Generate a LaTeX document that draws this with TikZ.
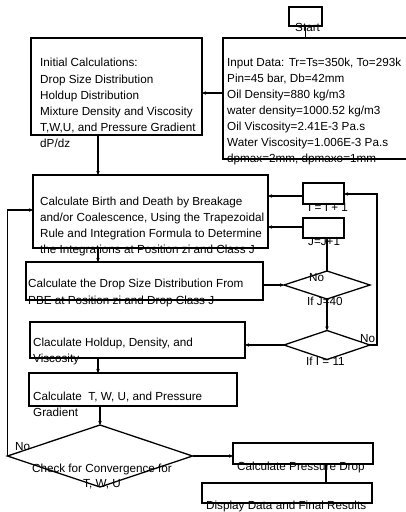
\documentclass[tikz,border=0pt]{standalone}
\usepackage{fontspec}
\setmainfont{Liberation Sans}
\usetikzlibrary{shapes.geometric,arrows.meta}
\begin{document}
\begin{tikzpicture}[x=1pt,y=-1pt,
 box/.style={draw, line width=1.3pt, inner sep=0pt, outer sep=0pt, anchor=north west},
 dia/.style={draw, diamond, line width=1.3pt, inner sep=0pt, outer sep=0pt},
 txt/.style={inner sep=0pt, anchor=base west, align=left, font=\fontsize{11.7}{16.2}\selectfont},
 ln/.style={line width=1.3pt},
 arr/.style={line width=1.3pt, -{Stealth[length=4pt,width=3.5pt]}},
]
\useasboundingbox (0,0) rectangle (406,512);
% boxes
\node[box, minimum width=33, minimum height=19] (start) at (289,7) {};
\node[box, minimum width=190, minimum height=121] (input) at (223,38) {};
\node[box, minimum width=171, minimum height=97] (init) at (31,38) {};
\node[box, minimum width=235, minimum height=73] (birth) at (33,175) {};
\node[box, minimum width=41, minimum height=21] (ibox) at (303,183) {};
\node[box, minimum width=41, minimum height=20] (jbox) at (303,218) {};
\node[box, minimum width=237, minimum height=38] (drop) at (26,262) {};
\node[box, minimum width=215, minimum height=36] (hold) at (30,322) {};
\node[box, minimum width=208, minimum height=33] (calct) at (29,373) {};
\node[box, minimum width=140, minimum height=21] (press) at (233,443) {};
\node[box, minimum width=170, minimum height=20] (disp) at (202,483) {};
% diamonds
\node[dia, minimum width=86, minimum height=28, aspect=3.07] (dj) at (327,285) {};
\node[dia, minimum width=86, minimum height=29, aspect=2.97] (di) at (327,345) {};
\node[dia, minimum width=185, minimum height=62, aspect=2.98] (chk) at (100,456) {};
% connectors
\draw[ln] (start.south) -- (input.north -| start.south);
\draw[arr] (input.west |- 0,93) -- (init.east |- 0,93);
\draw[arr] (init.south -| 98,0) -- (birth.north -| 98,0);
\draw[arr] (birth.south -| 98,0) -- (drop.north -| 98,0);
\draw[arr] (drop.east |- dj.west) -- (dj.west);
\draw[arr] (dj.south) -- (di.north);
\draw[arr] (di.west) -- (hold.east |- di.west);
\draw[arr] (hold.south -| 98,0) -- (calct.north -| 98,0);
\draw[arr] (calct.south -| chk.north) -- (chk.north);
\draw[arr] (chk.east) -- (press.west |- chk.east);
\draw[ln] (press.south -| 326,0) -- (disp.north -| 326,0);
\draw[arr] (chk.west) -- (chk.west |- 0,210) -- (birth.west |- 0,210);
\draw[arr] (dj.north) -- (jbox.south -| dj.north);
\draw[arr] (jbox.west |- 0,227) -- (birth.east |- 0,227);
\draw[arr] (ibox.west |- 0,196) -- (birth.east |- 0,196);
\draw[arr] (di.east) -- ++(7,0) |- (ibox.east |- 0,194);
% texts (anchor = baseline of the last line)
\node[txt] (tstart) at (295,31.7) {Start};
\node[txt, font=\fontsize{11.7}{16}\selectfont] (tinput) at (227,162.5) {Input Data: Tr=Ts=350k, To=293k\\Pin=45 bar, Db=42mm\\Oil Density=880 kg/m3\\water density=1000.52 kg/m3\\Oil Viscosity=2.41E-3 Pa.s\\Water Viscosity=1.006E-3 Pa.s\\dpmax=2mm, dpmaxo=1mm};
\node[txt] (tinit) at (40,147.8) {Initial Calculations:\\Drop Size Distribution\\Holdup Distribution\\Mixture Density and Viscosity\\T,W,U, and Pressure Gradient\\dP/dz};
\node[txt] (tbirth) at (40,253.8) {Calculate Birth and Death by Breakage\\and/or Coalescence, Using the Trapezoidal\\Rule and Integration Formula to Determine\\the Integrations at Position zi and Class J};
\node[txt] (tibox) at (308,211.7) {I = I + 1};
\node[txt] (tjbox) at (308,245) {J=J+1};
\node[txt] (tdrop) at (28,304) {Calculate the Drop Size Distribution From\\PBE at Position zi and Drop Class J};
\node[txt] (thold) at (33,362.3) {Claculate Holdup, Density, and\\Viscosity};
\node[txt] (tcalct) at (33,416.2) {Calculate\ \ T, W, U, and Pressure\\Gradient};
\node[txt, anchor=base, align=center, font=\fontsize{11.7}{15}\selectfont] (tchk) at (102,487) {Check for Convergence for\\T, W, U};
\node[txt] (tpress) at (237,470.7) {Calculate Pressure Drop};
\node[txt] (tdisp) at (206,509.5) {Display Data and Final Results};
\node[txt] (no1) at (15,450) {No};
\node[txt] (no2) at (309,281) {No};
\node[txt] (no3) at (360,342) {No};
\node[txt] (tifj) at (307,305) {If J=40};
\node[txt] (tifi) at (306,365) {If I = 11};
\end{tikzpicture}
\end{document}
